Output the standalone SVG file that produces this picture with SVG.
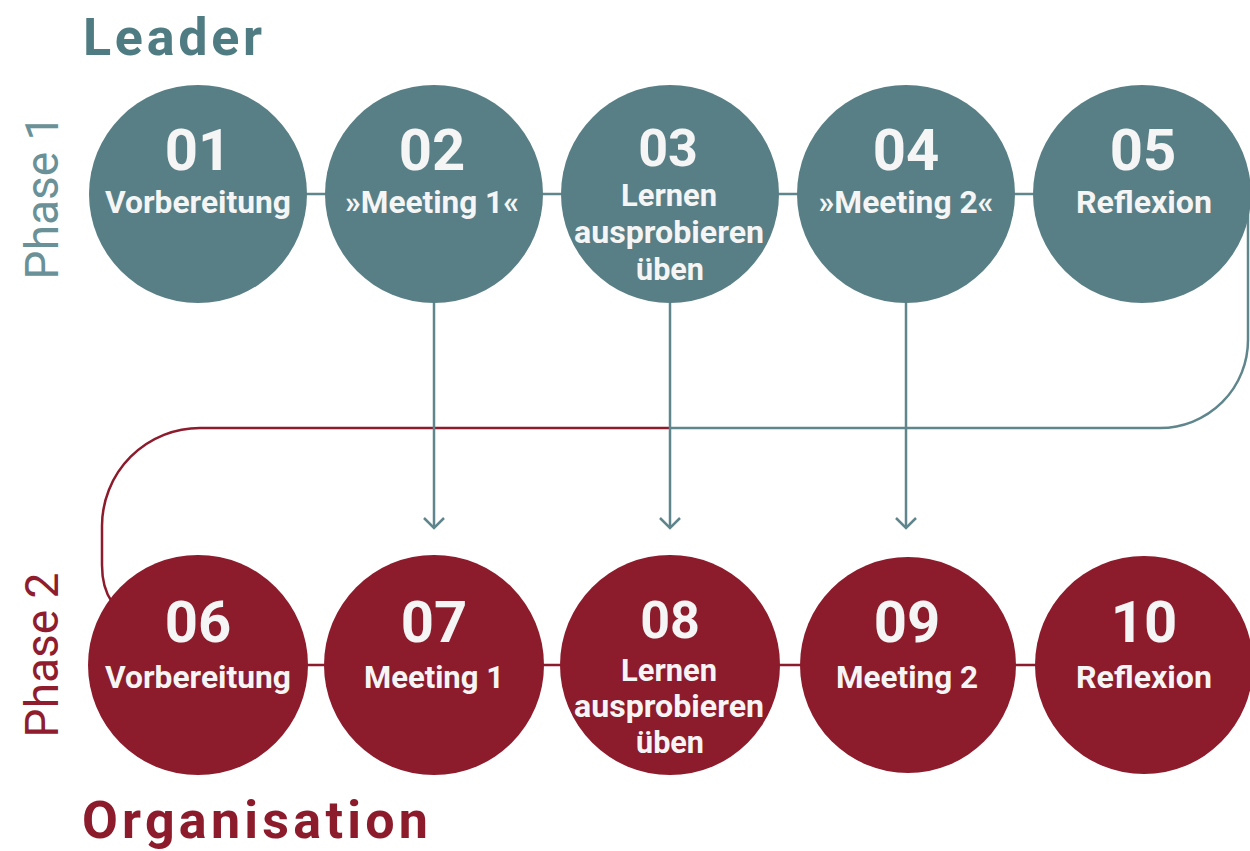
<svg xmlns="http://www.w3.org/2000/svg" width="1250" height="851" viewBox="0 0 1250 851">
  <defs>
    <style>
      .bg { fill: #ffffff; }
      .teal { fill: #587f85; }
      .red { fill: #8c1b2c; }
      .num { font-family: Roboto, "Liberation Sans", sans-serif; font-weight: 700; font-size: 58px; fill: #f5f5f5; text-anchor: middle; }
      .num.small { font-size: 52px; }
      .lbl { font-family: Roboto, "Liberation Sans", sans-serif; font-weight: 700; font-size: 31px; fill: #f5f5f5; text-anchor: middle; }
      .title { font-family: Roboto, "Liberation Sans", sans-serif; font-weight: 700; font-size: 52px; }
      .phase { font-family: Roboto, "Liberation Sans", sans-serif; font-weight: 400; font-size: 46px; text-anchor: middle; }
      .line-teal { fill: none; stroke: #5f868c; stroke-width: 2.5; }
      .line-red { fill: none; stroke: #8c1b2c; stroke-width: 2.5; }
    </style>
    <!-- open chevron, drawn pointing along +x so orient="auto" turns it with the line -->
    <marker id="chev" viewBox="0 0 14 24" markerWidth="14" markerHeight="24" refX="12" refY="12" orient="auto" markerUnits="userSpaceOnUse">
      <path d="M2,2 L12,12 L2,22" fill="none" stroke="#5f868c" stroke-width="2.5"/>
    </marker>
  </defs>

  <rect class="bg" x="0" y="0" width="1250" height="851"/>

  <!-- headings -->
  <text class="title" x="83" y="55" fill="#4f7c82" textLength="179">Leader</text>
  <text class="title" x="82" y="838" fill="#8c1b2c" font-size="54" textLength="346">Organisation</text>
  <text class="phase" transform="translate(58,197) rotate(-90)" fill="#6a9197">Phase 1</text>
  <text class="phase" transform="translate(58,655) rotate(-90)" fill="#8f1d2d">Phase 2</text>

  <!-- connectors -->
  <g id="connectors">
    <path class="line-teal" d="M198,194 L1142,194"/>
    <path class="line-red" d="M198,665 L1142,665"/>
    <path class="line-red" d="M670,428 L200,428 A98,98 0 0 0 102,526 L102,565 Q102,588 112,602"/>
    <path class="line-teal" d="M1248,194 L1248,340 A88,88 0 0 1 1160,428 L670,428"/>
    <path class="line-teal" d="M434,300 L434,528" marker-end="url(#chev)"/>
    <path class="line-teal" d="M670,300 L670,528" marker-end="url(#chev)"/>
    <path class="line-teal" d="M906,300 L906,528" marker-end="url(#chev)"/>
  </g>

  <!-- phase 1 -->
  <g id="n01">
    <circle class="teal" cx="198" cy="194" r="109"/>
    <text class="num" x="198" y="170">01</text>
    <text class="lbl" x="198" y="213" textLength="186" lengthAdjust="spacingAndGlyphs">Vorbereitung</text>
  </g>
  <g id="n02">
    <circle class="teal" cx="434" cy="194" r="109"/>
    <text class="num" x="432" y="170">02</text>
    <text class="lbl" x="432" y="213" textLength="174" lengthAdjust="spacingAndGlyphs">»Meeting 1«</text>
  </g>
  <g id="n03">
    <circle class="teal" cx="670" cy="194" r="109"/>
    <text class="num small" x="668" y="166">03</text>
    <text class="lbl" x="669" y="206" textLength="96" lengthAdjust="spacingAndGlyphs">Lernen</text>
    <text class="lbl" x="669" y="243" textLength="190" lengthAdjust="spacingAndGlyphs">ausprobieren</text>
    <text class="lbl" x="670" y="280" textLength="68" lengthAdjust="spacingAndGlyphs">üben</text>
  </g>
  <g id="n04">
    <circle class="teal" cx="906" cy="194" r="109"/>
    <text class="num" x="906" y="170">04</text>
    <text class="lbl" x="906" y="213" textLength="175" lengthAdjust="spacingAndGlyphs">»Meeting 2«</text>
  </g>
  <g id="n05">
    <circle class="teal" cx="1142" cy="194" r="109"/>
    <text class="num" x="1143" y="170">05</text>
    <text class="lbl" x="1144" y="213" textLength="136" lengthAdjust="spacingAndGlyphs">Reflexion</text>
  </g>

  <!-- phase 2 -->
  <g id="n06">
    <circle class="red" cx="198" cy="665" r="110"/>
    <text class="num" x="198" y="642">06</text>
    <text class="lbl" x="198" y="688" textLength="186" lengthAdjust="spacingAndGlyphs">Vorbereitung</text>
  </g>
  <g id="n07">
    <circle class="red" cx="434" cy="665" r="110"/>
    <text class="num" x="434" y="642">07</text>
    <text class="lbl" x="434" y="688" textLength="140" lengthAdjust="spacingAndGlyphs">Meeting 1</text>
  </g>
  <g id="n08">
    <circle class="red" cx="670" cy="665" r="110"/>
    <text class="num small" x="670" y="638">08</text>
    <text class="lbl" x="669" y="681" textLength="96" lengthAdjust="spacingAndGlyphs">Lernen</text>
    <text class="lbl" x="669" y="717" textLength="190" lengthAdjust="spacingAndGlyphs">ausprobieren</text>
    <text class="lbl" x="670" y="753" textLength="68" lengthAdjust="spacingAndGlyphs">üben</text>
  </g>
  <g id="n09">
    <circle class="red" cx="908" cy="665" r="108"/>
    <text class="num" x="907" y="642">09</text>
    <text class="lbl" x="907" y="688" textLength="142" lengthAdjust="spacingAndGlyphs">Meeting 2</text>
  </g>
  <g id="n10">
    <circle class="red" cx="1144" cy="665" r="109"/>
    <text class="num" x="1144" y="642">10</text>
    <text class="lbl" x="1144" y="688" textLength="136" lengthAdjust="spacingAndGlyphs">Reflexion</text>
  </g>
</svg>
